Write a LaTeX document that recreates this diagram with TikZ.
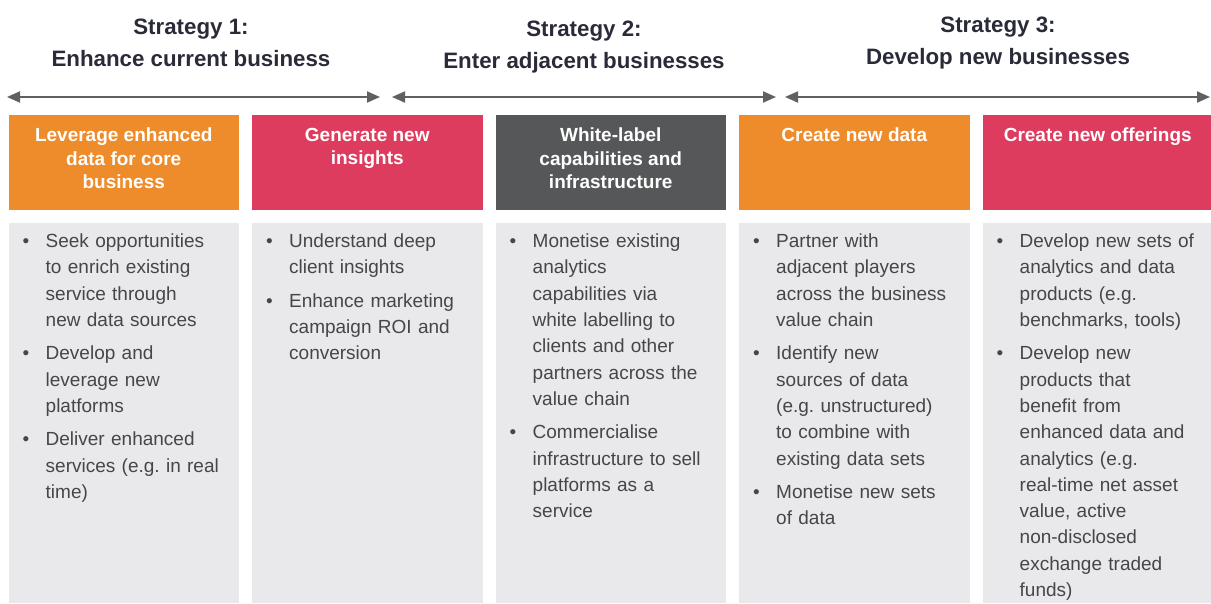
\documentclass[tikz,border=0pt]{standalone}
\usepackage{fontspec}
\setmainfont{Liberation Sans}
\usetikzlibrary{arrows.meta, positioning}
\frenchspacing

\definecolor{strorange}{RGB}{238,139,42}
\definecolor{strpink}{RGB}{222,60,95}
\definecolor{strgrey}{RGB}{86,87,89}
\definecolor{panelgrey}{RGB}{233,233,235}
\definecolor{bodytext}{RGB}{70,70,74}
\definecolor{titletext}{RGB}{42,43,56}
\definecolor{spanline}{RGB}{96,96,98}

% one bullet point, lines broken by hand
\newcommand{\point}[1]{\noindent\makebox[23pt][l]{\textbullet}\begin{tabular}[t]{@{}l@{}}#1\end{tabular}\par\vspace{6pt}}

\begin{document}
\begin{tikzpicture}[x=1pt, y=-1pt,
    strategy/.style={font=\fontsize{22.3}{32}\selectfont\bfseries, text=titletext, align=center},
    spanarrow/.style={draw=spanline, line width=1.8pt, {Triangle[length=13pt,width=11pt]}-{Triangle[length=13pt,width=11pt]}},
    hdr/.style={minimum width=230.5pt, minimum height=95pt, inner sep=0pt, outer sep=0pt},
    hdrtxt/.style={font=\fontsize{19}{23.5}\selectfont\bfseries, text=white, align=center, inner sep=0pt},
    panel/.style={fill=panelgrey, minimum width=230.5pt, minimum height=380pt, inner sep=0pt, outer sep=0pt},
    itemlist/.style={font=\fontsize{19}{26.3}\selectfont, text=bodytext, text width=205pt, inner sep=0pt}]
    \useasboundingbox (0,0) rectangle (1211,603);

    % strategy titles
    \node[strategy] (st1) at (191,43) {Strategy 1:\\Enhance current business};
    \node[strategy] (st2) at (584,47.5) {Strategy 2:\\Enter adjacent businesses};
    \node[strategy] (st3) at (998,43) {Strategy 3:\\Develop new businesses};

    % spans
    \coordinate (s1l) at (7,97);
    \coordinate (s1r) at (380,97);
    \coordinate (s2l) at (392,97);
    \coordinate (s2r) at (776,97);
    \coordinate (s3l) at (785,97);
    \coordinate (s3r) at (1210,97);
    \draw[spanarrow] (s1l) -- (s1r);
    \draw[spanarrow] (s2l) -- (s2r);
    \draw[spanarrow] (s3l) -- (s3r);

    % coloured headers
    \node[hdr, fill=strorange, anchor=north west] (h1) at (8.5,115) {};
    \node[hdr, fill=strpink, right=13pt of h1] (h2) {};
    \node[hdr, fill=strgrey, right=13pt of h2] (h3) {};
    \node[hdr, fill=strorange, right=13pt of h3] (h4) {};
    \node[hdr, fill=strpink, right=13pt of h4] (h5) {};

    \node[hdrtxt, below=13pt of h1.north] (t1) {Leverage enhanced\\data for core\\business};
    \node[hdrtxt, below=13pt of h2.north] (t2) {Generate new\\insights};
    \node[hdrtxt, below=13pt of h3.north] (t3) {White-label\\capabilities and\\infrastructure};
    \node[hdrtxt, below=13pt of h4.north] (t4) {Create new data};
    \node[hdrtxt, below=13pt of h5.north] (t5) {Create new offerings};

    % grey panels
    \node[panel, anchor=north west] (p1) at (8.5,223) {};
    \node[panel, right=13pt of p1] (p2) {};
    \node[panel, right=13pt of p2] (p3) {};
    \node[panel, right=13pt of p3] (p4) {};
    \node[panel, right=13pt of p4] (p5) {};

    \node[itemlist, below right=6pt and 14pt of p1.north west] (l1) {%
        \point{Seek opportunities\\to enrich existing\\service through\\new data sources}
        \point{\makebox[117pt][s]{Develop and}\\\makebox[117pt][s]{leverage new}\\platforms}
        \point{Deliver enhanced\\services (e.g. in real\\time)}};
    \node[itemlist, below right=6pt and 14pt of p2.north west] (l2) {%
        \point{Understand deep\\client insights}
        \point{\makebox[170pt][s]{Enhance marketing}\\\makebox[170pt][s]{campaign ROI and}\\conversion}};
    \node[itemlist, below right=6pt and 14pt of p3.north west] (l3) {%
        \point{Monetise existing\\analytics\\capabilities via\\white labelling to\\clients and other\\partners across the\\value chain}
        \point{Commercialise\\infrastructure to sell\\platforms as a\\service}};
    \node[itemlist, below right=6pt and 14pt of p4.north west] (l4) {%
        \point{Partner with\\adjacent players\\across the business\\value chain}
        \point{Identify new\\sources of data\\(e.g. unstructured)\\to combine with\\existing data sets}
        \point{Monetise new sets\\of data}};
    \node[itemlist, below right=6pt and 14pt of p5.north west] (l5) {%
        \point{Develop new sets of\\analytics and data\\products (e.g.\\benchmarks, tools)}
        \point{Develop new\\products that\\benefit from\\enhanced data and\\analytics (e.g.\\real-time net asset\\value, active\\non-disclosed\\exchange traded\\funds)}};
\end{tikzpicture}
\end{document}
